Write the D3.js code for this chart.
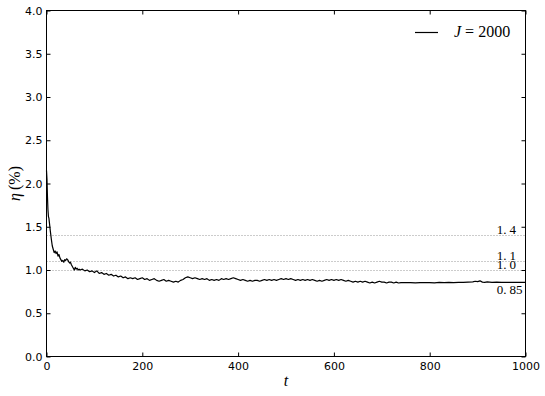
<!DOCTYPE html>
<html>
<head>
<meta charset="utf-8">
<script src="https://cdn.jsdelivr.net/npm/d3@7"></script>
<style>
  body { margin: 0; background: #fff; }
  .axis text { font-family: "DejaVu Sans", sans-serif; font-size: 11px; fill: #000; }
  .axis line { stroke: #000; }
  .serif { font-family: "Liberation Serif", "DejaVu Serif", serif; fill: #000; }
</style>
</head>
<body>
<svg id="chart"></svg>
<script>
// iteration t and efficiency eta (%)
const tValues = [
  0, 1, 2, 3, 4, 5, 6, 8, 10, 12, 14, 16, 18, 20, 22, 24, 26, 28, 30, 32, 34, 36, 38, 40,
  42, 44, 46, 48, 50, 52, 54, 56, 58, 60, 62, 64, 66, 68, 70,
  75, 80, 85, 90, 95, 100, 105, 110, 115, 120, 125, 130, 135, 140, 145, 150, 155, 160,
  165, 170, 175, 180, 185, 190, 195, 200, 205, 210, 215, 220, 225, 230, 235, 240, 245,
  250, 255, 260, 265, 270, 275, 280, 285, 290, 295, 300, 305, 310, 315, 320, 325, 330,
  335, 340, 345, 350, 355, 360, 365, 370, 375, 380, 385, 390, 395, 400, 405, 410, 415,
  420, 425, 430, 435, 440, 445, 450, 455, 460, 465, 470, 475, 480, 485, 490, 495, 500,
  505, 510, 515, 520, 525, 530, 535, 540, 545, 550, 555, 560, 565, 570, 575, 580, 585,
  590, 595, 600, 605, 610, 615, 620, 625, 630, 635, 640, 645, 650, 655, 660, 665, 670,
  675, 680, 685, 690, 695, 700, 705, 710, 715, 720, 725, 730, 735, 740, 750, 760, 770,
  780, 790, 800, 810, 820, 830, 840, 850, 860, 870, 880, 890, 895, 900, 905, 910, 915,
  920, 930, 940, 950, 960, 970, 980, 990, 1000
];
const etaValues = [
  2.15, 2.05, 1.85, 1.70, 1.62, 1.60, 1.55, 1.45, 1.36, 1.28, 1.24, 1.20, 1.22, 1.19, 1.21, 1.16, 1.18, 1.14, 1.12, 1.10, 1.11, 1.09, 1.12, 1.11,
  1.13, 1.12, 1.10, 1.08, 1.09, 1.06, 1.04, 1.02, 1.00, 1.03, 1.01, 1.02, 1.00, 1.01, 1.00,
  1.01, 0.99, 1.00, 0.98, 0.99, 0.97, 0.99, 0.96, 0.97, 0.95, 0.96, 0.94, 0.95, 0.93, 0.94, 0.92, 0.93, 0.91,
  0.92, 0.90, 0.91, 0.90, 0.91, 0.89, 0.90, 0.91, 0.89, 0.90, 0.88, 0.89, 0.90, 0.88, 0.87, 0.88, 0.89,
  0.87, 0.88, 0.87, 0.86, 0.87, 0.86, 0.88, 0.89, 0.91, 0.92, 0.91, 0.90, 0.91, 0.90, 0.89, 0.90, 0.89,
  0.90, 0.88, 0.89, 0.88, 0.89, 0.88, 0.90, 0.89, 0.90, 0.89, 0.90, 0.91, 0.90, 0.89, 0.88, 0.89, 0.88,
  0.87, 0.88, 0.87, 0.88, 0.88, 0.87, 0.88, 0.89, 0.88, 0.89, 0.88, 0.89, 0.88, 0.89, 0.90, 0.89, 0.90,
  0.89, 0.90, 0.89, 0.88, 0.89, 0.88, 0.89, 0.88, 0.89, 0.88, 0.89, 0.88, 0.87, 0.88, 0.87, 0.88, 0.89,
  0.88, 0.89, 0.88, 0.89, 0.88, 0.89, 0.88, 0.87, 0.88, 0.87, 0.86, 0.87, 0.86, 0.87, 0.86, 0.87, 0.86,
  0.85, 0.86, 0.85, 0.86, 0.87, 0.86, 0.86, 0.85, 0.86, 0.86, 0.85, 0.86, 0.85, 0.855, 0.855, 0.855, 0.852,
  0.855, 0.853, 0.855, 0.852, 0.856, 0.853, 0.857, 0.855, 0.858, 0.856, 0.86, 0.862, 0.87, 0.866, 0.875, 0.86, 0.858,
  0.862, 0.858, 0.86, 0.858, 0.857, 0.858, 0.857, 0.858, 0.857
];

// dotted reference levels
const refLevels = [1.4, 1.1, 1.0];
// text marks placed at t = 940 (0.85 has no line, only a label)
const markValues = [1.4, 1.1, 1.0, 0.85];
const markLabels = [["1.", "4"], ["1.", "1"], ["1.", "0"], ["0.", "85"]];
const markBelow = [false, false, false, true];

const xTicks = [0, 200, 400, 600, 800, 1000];
const yTicks = [0, 0.5, 1, 1.5, 2, 2.5, 3, 3.5, 4];
const seriesName = "2000";

function makeChart() {
  let w = 545;
  let h = 396;
  let left = 46.5, right = 525.5, top = 10.5, bottom = 356.5;

  let svg = d3.select('#chart')
    .attr('width', w)
    .attr('height', h);

  let xScale = d3.scaleLinear().domain([0, 1000]).range([left, right]);
  let yScale = d3.scaleLinear().domain([0, 4]).range([bottom, top]);

  // dotted reference lines
  svg.selectAll('line.ref')
    .data(refLevels)
    .enter()
    .append('line')
    .attr('class', 'ref')
    .attr('x1', left)
    .attr('x2', right)
    .attr('y1', (d) => Math.round(yScale(d)) + 0.5)
    .attr('y2', (d) => Math.round(yScale(d)) + 0.5)
    .attr('stroke', '#999')
    .attr('stroke-width', 1)
    .attr('stroke-dasharray', '1,2');

  // curve
  let line = d3.line()
    .x((d, i) => xScale(tValues[i]))
    .y((d) => yScale(d));

  svg.append('path')
    .datum(etaValues)
    .attr('d', line)
    .attr('fill', 'none')
    .attr('stroke', '#000')
    .attr('stroke-width', 1.2)
    .attr('stroke-linejoin', 'round');

  // labels for reference levels
  let labels = svg.selectAll('text.mark')
    .data(markValues)
    .enter()
    .append('text')
    .attr('class', 'serif mark')
    .style('font-size', '13px')
    .attr('x', xScale(940))
    .attr('y', (d, i) => markBelow[i] ? yScale(d) + 11 : yScale(d) - 1);
  labels.append('tspan').text((d, i) => markLabels[i][0]);
  labels.append('tspan').attr('dx', 3).text((d, i) => markLabels[i][1]);

  // AXES, ticks pointing inward on all four sides
  svg.append('g')
    .attr('class', 'axis')
    .attr('transform', `translate(0, ${bottom})`)
    .call(d3.axisBottom(xScale).tickValues(xTicks).tickFormat(d3.format('d'))
      .tickSizeInner(-4).tickSizeOuter(0).tickPadding(6))
    .call((g) => g.select('.domain').remove());

  svg.append('g')
    .attr('class', 'axis')
    .attr('transform', `translate(0, ${top})`)
    .call(d3.axisTop(xScale).tickValues(xTicks).tickFormat('')
      .tickSizeInner(-4).tickSizeOuter(0))
    .call((g) => g.select('.domain').remove());

  svg.append('g')
    .attr('class', 'axis')
    .attr('transform', `translate(${left}, 0)`)
    .call(d3.axisLeft(yScale).tickValues(yTicks).tickFormat(d3.format('.1f'))
      .tickSizeInner(-4).tickSizeOuter(0).tickPadding(4))
    .call((g) => g.select('.domain').remove());

  svg.append('g')
    .attr('class', 'axis')
    .attr('transform', `translate(${right}, 0)`)
    .call(d3.axisRight(yScale).tickValues(yTicks).tickFormat('')
      .tickSizeInner(-4).tickSizeOuter(0))
    .call((g) => g.select('.domain').remove());

  // frame
  svg.append('rect')
    .attr('x', left)
    .attr('y', top)
    .attr('width', right - left)
    .attr('height', bottom - top)
    .attr('fill', 'none')
    .attr('stroke', '#000')
    .attr('stroke-width', 1);

  // axis titles
  svg.append('text')
    .attr('class', 'serif')
    .attr('x', (left + right) / 2)
    .attr('y', 386)
    .attr('text-anchor', 'middle')
    .style('font-size', '16px')
    .style('font-style', 'italic')
    .text('t');

  let ylab = svg.append('text')
    .attr('class', 'serif')
    .attr('transform', `translate(20, ${(top + bottom) / 2}) rotate(-90)`)
    .attr('text-anchor', 'middle')
    .style('font-size', '16px');
  ylab.append('tspan').style('font-style', 'italic').text('η');
  ylab.append('tspan').attr('dx', 3).text('(%)');

  // legend
  svg.append('line')
    .attr('x1', 415).attr('x2', 438)
    .attr('y1', 32.5).attr('y2', 32.5)
    .attr('stroke', '#000')
    .attr('stroke-width', 1.2);

  let leg = svg.append('text')
    .attr('class', 'serif')
    .attr('x', 454)
    .attr('y', 37)
    .style('font-size', '16px');
  leg.append('tspan').style('font-style', 'italic').text('J');
  leg.append('tspan').attr('dx', 4).text('=');
  leg.append('tspan').attr('dx', 4).text(seriesName);
}

makeChart();
</script>
</body>
</html>
